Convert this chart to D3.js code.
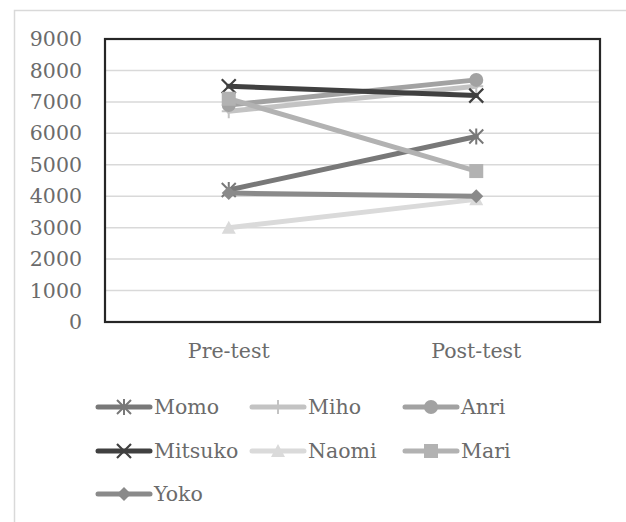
<!DOCTYPE html>
<html><head><meta charset="utf-8">
<script src="https://cdn.jsdelivr.net/npm/d3@7"></script>
<style>body{margin:0;background:#fff}svg{display:block}</style>
</head><body>
<script>
const categories = ["Pre-test", "Post-test"];
const seriesNames = ["Momo", "Miho", "Anri", "Mitsuko", "Naomi", "Mari", "Yoko"];
const momo = [4200, 5900];
const miho = [6700, 7500];
const anri = [6900, 7700];
const mitsuko = [7500, 7200];
const naomi = [3000, 3900];
const mari = [7100, 4800];
const yoko = [4100, 4000];
const yTicks = [0, 1000, 2000, 3000, 4000, 5000, 6000, 7000, 8000, 9000];

const values = [momo, miho, anri, mitsuko, naomi, mari, yoko];
const colors = ["#787878", "#c3c3c3", "#a2a2a2", "#404040", "#dadada", "#b2b2b2", "#8a8a8a"];
const markers = ["asterisk", "plus", "circle", "x", "triangle", "square", "diamond"];

const W = 626, H = 522;
const svg = d3.select("body").append("svg").attr("width", W).attr("height", H);
const font = "'DejaVu Serif', serif";
const textColor = "#6b6b6b";
const fs = 20.5;

svg.append("rect").attr("x", 14.5).attr("y", 10.5).attr("width", 700).attr("height", 600)
  .attr("fill", "#fff").attr("stroke", "#d9d9d9").attr("stroke-width", 1.5);

const plot = {l: 105, r: 600, t: 39, b: 322};
const x = d3.scaleBand().domain(categories).range([plot.l, plot.r]);
const y = d3.scaleLinear().domain([0, 9000]).range([plot.b, plot.t]);

// gridlines
svg.append("g").selectAll("line").data(yTicks).join("line")
  .attr("x1", plot.l).attr("x2", plot.r)
  .attr("y1", d => y(d)).attr("y2", d => y(d))
  .attr("stroke", "#d9d9d9").attr("stroke-width", 1.5);

// y axis labels
const yAxis = d3.axisLeft(y).tickValues(yTicks).tickSize(0).tickPadding(23).tickFormat(d3.format("d"));
const ya = svg.append("g").attr("transform", `translate(${plot.l},0)`).call(yAxis);
ya.select(".domain").remove();
ya.selectAll("text").attr("font-family", font).attr("font-size", fs).attr("fill", textColor);

// x axis labels
const xAxis = d3.axisBottom(x).tickSize(0).tickPadding(21);
const xa = svg.append("g").attr("transform", `translate(0,${plot.b})`).call(xAxis);
xa.select(".domain").remove();
xa.selectAll("text").attr("font-family", font).attr("font-size", fs).attr("fill", textColor);

// plot border
svg.append("rect").attr("x", plot.l).attr("y", plot.t).attr("width", plot.r - plot.l).attr("height", plot.b - plot.t)
  .attr("fill", "none").attr("stroke", "#262626").attr("stroke-width", 2.2);

function drawMarker(g, type, cx, cy, color) {
  const s = 7;
  if (type === "asterisk") {
    g.append("path").attr("d", `M${cx-s},${cy-s}L${cx+s},${cy+s}M${cx-s},${cy+s}L${cx+s},${cy-s}M${cx},${cy-s-1}L${cx},${cy+s+1}`)
      .attr("stroke", color).attr("stroke-width", 2).attr("fill", "none");
  } else if (type === "plus") {
    g.append("path").attr("d", `M${cx-s},${cy}L${cx+s},${cy}M${cx},${cy-s}L${cx},${cy+s}`)
      .attr("stroke", color).attr("stroke-width", 2).attr("fill", "none");
  } else if (type === "circle") {
    g.append("circle").attr("cx", cx).attr("cy", cy).attr("r", 7).attr("fill", color);
  } else if (type === "x") {
    g.append("path").attr("d", `M${cx-s},${cy-s}L${cx+s},${cy+s}M${cx-s},${cy+s}L${cx+s},${cy-s}`)
      .attr("stroke", color).attr("stroke-width", 2.2).attr("fill", "none");
  } else if (type === "triangle") {
    g.append("path").attr("d", `M${cx},${cy-7}L${cx+7},${cy+6}L${cx-7},${cy+6}Z`).attr("fill", color);
  } else if (type === "square") {
    g.append("rect").attr("x", cx-7).attr("y", cy-7).attr("width", 14).attr("height", 14).attr("fill", color);
  } else if (type === "diamond") {
    g.append("path").attr("d", `M${cx},${cy-7}L${cx+7},${cy}L${cx},${cy+7}L${cx-7},${cy}Z`).attr("fill", color);
  }
}

const line = d3.line().x((d, i) => x(categories[i]) + x.bandwidth() / 2).y(d => y(d));
seriesNames.forEach((name, si) => {
  const g = svg.append("g");
  g.append("path").datum(values[si]).attr("d", line).attr("fill", "none")
    .attr("stroke", colors[si]).attr("stroke-width", 5).attr("stroke-linecap", "round");
  values[si].forEach((v, i) => drawMarker(g, markers[si], x(categories[i]) + x.bandwidth() / 2, y(v), colors[si]));
});

// legend
const legX = [96, 250, 403];
const legY = [407, 451, 494];
seriesNames.forEach((name, si) => {
  const col = si % 3, row = Math.floor(si / 3);
  const lx = legX[col], ly = legY[row];
  const g = svg.append("g");
  g.append("line").attr("x1", lx + 2).attr("x2", lx + 54).attr("y1", ly).attr("y2", ly)
    .attr("stroke", colors[si]).attr("stroke-width", 5).attr("stroke-linecap", "round");
  drawMarker(g, markers[si], lx + 28, ly, colors[si]);
  g.append("text").attr("x", lx + 58).attr("y", ly).attr("dy", "0.35em")
    .attr("font-family", font).attr("font-size", fs).attr("fill", textColor).text(name);
});
</script>
</body></html>
